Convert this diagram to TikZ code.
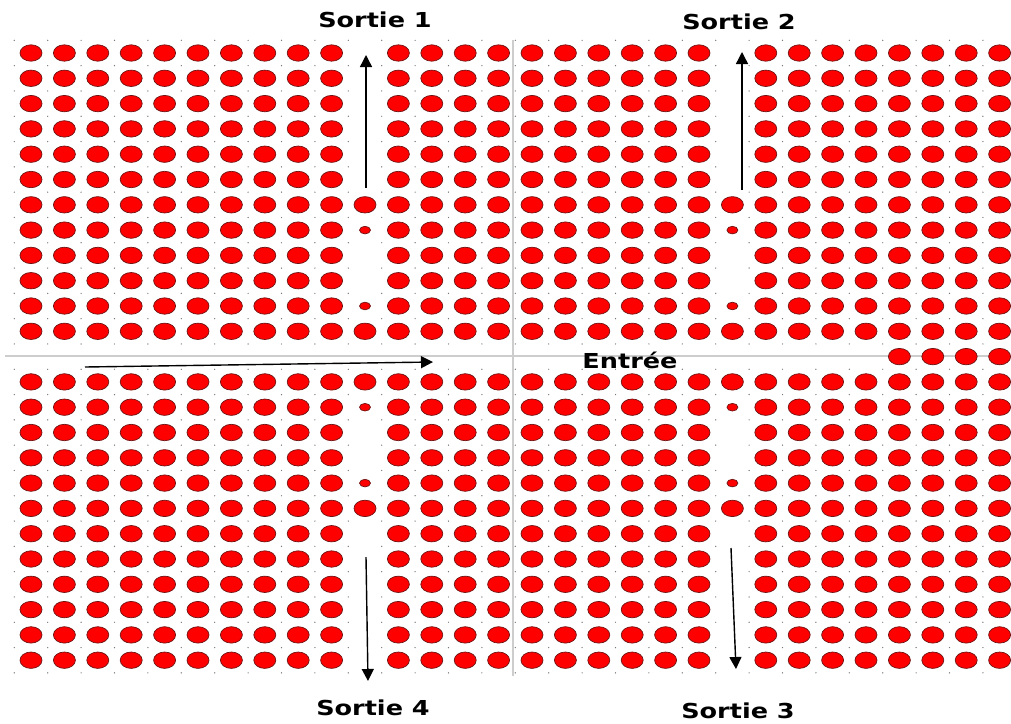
\documentclass[tikz,border=0pt]{standalone}
\usepackage{fontspec}
\setmainfont{DejaVu Sans}
\usetikzlibrary{arrows.meta}
\definecolor{dotred}{RGB}{255,0,0}
\definecolor{dotedge}{RGB}{110,20,20}
\definecolor{guide}{RGB}{205,205,205}
\definecolor{speck}{RGB}{120,120,120}
\tikzset{
  rod/.style={fill=dotred, draw=dotedge, line width=0.7pt},
  guideline/.style={draw=guide, line width=1.6pt},
  arrowline/.style={draw=black, line width=1.4pt, -{Triangle[length=12pt,width=12pt]}},
  lbl/.style={font=\bfseries\fontsize{20.6}{24}\selectfont, inner sep=0pt}
}
\begin{document}
\begin{tikzpicture}[x=1pt,y=-1pt]
\useasboundingbox (0,0) rectangle (1011,723);
% guide lines
\draw[guideline] (5,356) -- (1011,356);
\draw[guideline] (513,40) -- (513,676);
% specks at cell corners
\foreach \i in {0,...,30} {
  \foreach \j in {0,...,25} {
    \fill[speck] ({31+33.4*(\i-0.5)},{53+25.3*(\j-0.5)}) circle (0.7pt);
  }
}
% full lattice rows
\foreach \j in {0,1,2,3,4,5,6,7,8,9,10,11,13,14,15,16,17,18,19,20,21,22,23,24} {
  \foreach \i in {0,1,2,3,4,5,6,7,8,9,11,12,13,14,15,16,17,18,19,20,22,23,24,25,26,27,28,29} {
    \fill[rod] ({31+33.4*\i},{53+25.3*\j}) ellipse [x radius=11pt, y radius=8.2pt];
  }
}
% input row, right end
\foreach \i in {26,27,28,29} {
  \fill[rod] ({31+33.4*\i},{53+25.3*12}) ellipse [x radius=11pt, y radius=8.2pt];
}
% vertical guides: full and small rods
\foreach \i in {10,21} {
  \foreach \j in {6,11,13,18} {
    \fill[rod] ({31+33.4*\i},{53+25.3*\j}) ellipse [x radius=11pt, y radius=8.2pt];
  }
  \foreach \j in {7,10,14,17} {
    \fill[rod] ({31+33.4*\i},{53+25.3*\j}) ellipse [x radius=5.5pt, y radius=3.8pt];
  }
}
% arrows
\coordinate (s1a) at (366,188); \coordinate (s1b) at (366,55);
\coordinate (s2a) at (742,190); \coordinate (s2b) at (742,52);
\coordinate (ina) at (85,367);  \coordinate (inb) at (433,362);
\coordinate (s4a) at (366,557); \coordinate (s4b) at (368,681);
\coordinate (s3a) at (731,548); \coordinate (s3b) at (736,669);
\draw[arrowline] (s1a) -- (s1b);
\draw[arrowline] (s2a) -- (s2b);
\draw[arrowline] (ina) -- (inb);
\draw[arrowline] (s4a) -- (s4b);
\draw[arrowline] (s3a) -- (s3b);
% labels
\node[lbl, anchor=base] (sortie1) at (375,27) {\scalebox{1.24}[1]{Sortie 1}};
\node[lbl, anchor=base] (sortie2) at (739,29) {\scalebox{1.24}[1]{Sortie 2}};
\node[lbl, anchor=base] (entree) at (630,368) {\scalebox{1.24}[1]{Entrée}};
\node[lbl, anchor=base] (sortie4) at (373,715) {\scalebox{1.24}[1]{Sortie 4}};
\node[lbl, anchor=base] (sortie3) at (738,718) {\scalebox{1.24}[1]{Sortie 3}};
\end{tikzpicture}
\end{document}
